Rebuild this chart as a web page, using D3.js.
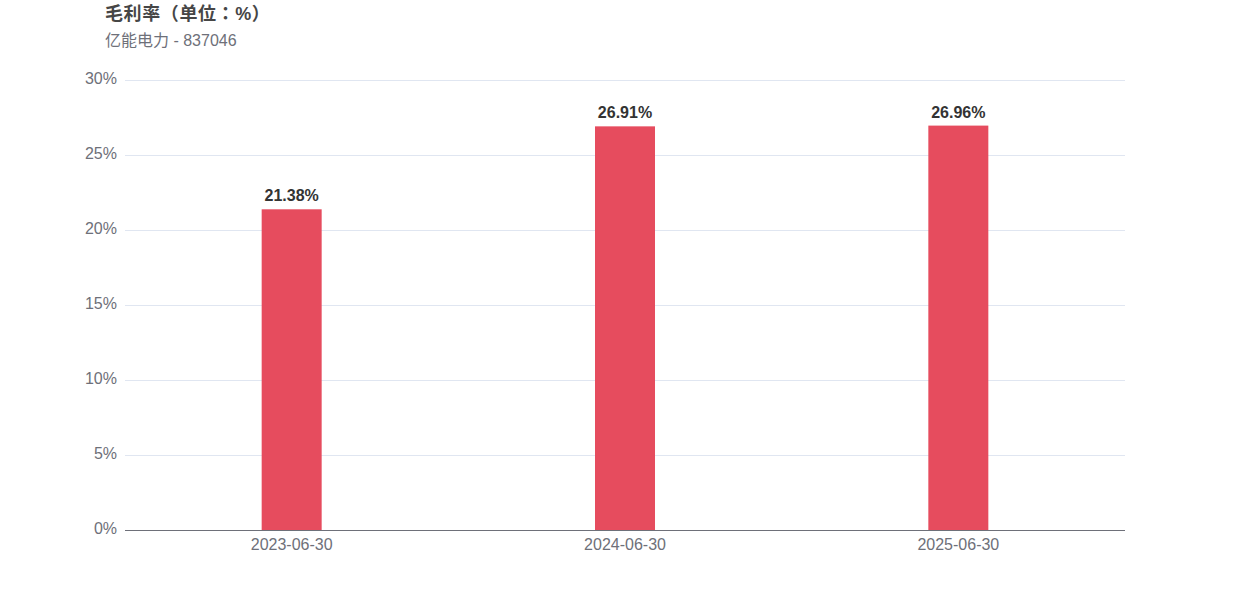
<!DOCTYPE html>
<html><head><meta charset="utf-8">
<script src="https://cdn.jsdelivr.net/npm/d3@7"></script>
<style>body{margin:0;background:#fff;font-family:"Liberation Sans","Noto Sans CJK SC",sans-serif;}</style>
</head><body><svg id="c" width="1250" height="600"></svg>
<script>
const categories = ["2023-06-30","2024-06-30","2025-06-30"];
const values = [21.38, 26.91, 26.96];
const yTicks = [0,5,10,15,20,25,30];
const title = "毛利率（单位：%）";
const subtitle = "亿能电力 - 837046";

const svg = d3.select("#c");
const ff = '"Liberation Sans","Noto Sans CJK SC",sans-serif';
const ffTitle = '"Liberation Sans","Noto Sans CJK JP",sans-serif';
const x = d3.scaleBand().domain(categories).range([125,1125]).paddingInner(0).paddingOuter(0);
const y = d3.scaleLinear().domain([0,30]).range([530,80]);

svg.append("text").attr("x",105).attr("y",20).attr("font-size",18).attr("font-weight","bold")
  .attr("letter-spacing","0.6px")
  .attr("fill","#464646").attr("font-family",ffTitle).text(title);
svg.append("text").attr("x",105).attr("y",46).attr("font-size",16)
  .attr("fill","#6e7079").attr("font-family",ff).text(subtitle);

svg.append("g").selectAll("line").data(yTicks.filter(d=>d>0)).join("line")
  .attr("x1",125).attr("x2",1125).attr("y1",d=>y(d)).attr("y2",d=>y(d))
  .attr("stroke","#e0e6f1").attr("stroke-width",1).attr("shape-rendering","crispEdges");

svg.append("g").selectAll("text").data(yTicks).join("text")
  .attr("x",117).attr("y",d=>y(d)-2).attr("dy","0.35em").attr("text-anchor","end")
  .attr("font-size",16).attr("fill","#6e7079").attr("font-family",ff).text(d=>d+"%");

const bw = 60;
svg.append("g").selectAll("rect").data(values).join("rect")
  .attr("x",(d,i)=>x(categories[i])+x.bandwidth()/2-bw/2).attr("width",bw)
  .attr("y",d=>y(d)).attr("height",d=>y(0)-y(d)).attr("fill","#e64c5e");

svg.append("g").selectAll("text").data(values).join("text")
  .attr("x",(d,i)=>x(categories[i])+x.bandwidth()/2).attr("y",d=>y(d)-8)
  .attr("text-anchor","middle").attr("font-size",16).attr("font-weight","bold")
  .attr("fill","#333").attr("font-family",ff).text(d=>d.toFixed(2)+"%");

svg.append("line").attr("x1",125).attr("x2",1125).attr("y1",530.5).attr("y2",530.5)
  .attr("stroke","#6e7079").attr("stroke-width",1);

svg.append("g").selectAll("text").data(categories).join("text")
  .attr("x",d=>x(d)+x.bandwidth()/2).attr("y",550).attr("text-anchor","middle")
  .attr("font-size",16).attr("fill","#6e7079").attr("font-family",ff).text(d=>d);
</script></body></html>
